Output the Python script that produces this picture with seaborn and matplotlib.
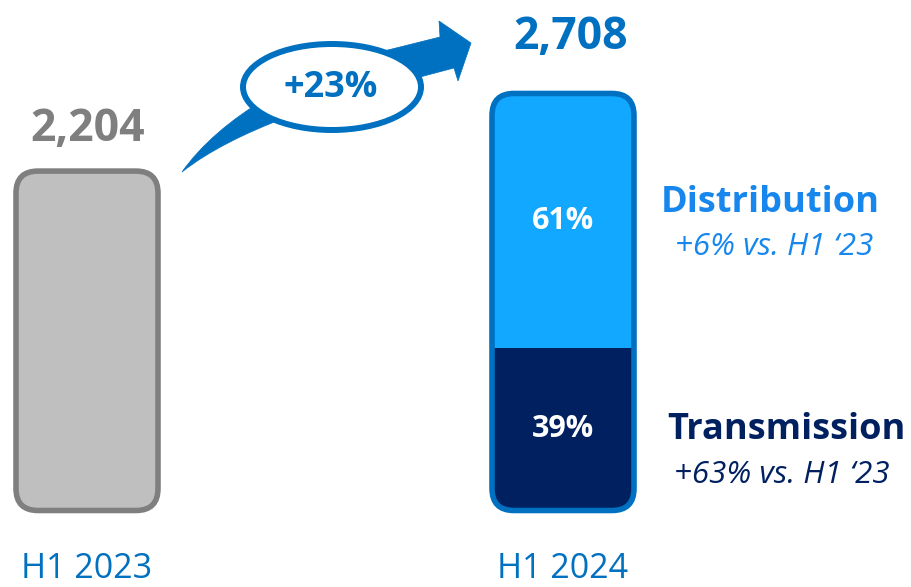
import matplotlib
matplotlib.use("Agg")
import matplotlib.pyplot as plt
import seaborn as sns
import pandas as pd
from matplotlib.patches import FancyBboxPatch, Ellipse, PathPatch
from matplotlib.path import Path

# ---------------- data ----------------
periods = ["H1 2023", "H1 2024"]
totals = [2204, 2708]
total_labels = ["2,204", "2,708"]
segments = ["Transmission", "Distribution"]
segment_share = [39, 61]          # % of H1 2024 total
segment_growth = ["+63% vs. H1 \u201823", "+6% vs. H1 \u201823"]
growth_label = "+23%"

# ---------------- style ----------------
GRAY_FILL = "#BFBFBF"
GRAY_EDGE = "#7F7F7F"
BLUE = "#0070C0"
LIGHT_BLUE = "#12A8FF"
NAVY = "#002060"
DIST_TXT = "#1787EE"

sns.set_theme(style="white")
plt.rcParams["font.family"] = ["Open Sans", "DejaVu Sans"]

W, H = 912, 587
fig = plt.figure(figsize=(W / 100, H / 100), dpi=100)
base_px = 510.5          # pixel row of the bar baseline
s = 0.154                # pixels per unit value
xpx = 476.0              # pixels per category step
x0px = 87.0              # pixel column of first category

ax = fig.add_axes([0, (H - base_px) / H, 1, base_px / H])
bw = 142 / xpx

df = pd.DataFrame({"period": periods, "total": totals})
sns.barplot(data=df, x="period", y="total", hue="period", order=periods,
            palette=[GRAY_FILL, LIGHT_BLUE], width=bw, saturation=1,
            errorbar=None, legend=False, linewidth=0, ax=ax)
trans_val = totals[1] * segment_share[0] / 100
dist_val = totals[1] * segment_share[1] / 100
sns.barplot(x=[periods[1]], y=[trans_val], order=periods, color=NAVY,
            width=bw, saturation=1, errorbar=None, linewidth=0, ax=ax)

ax.set_xlim(-x0px / xpx, (W - x0px) / xpx)
ax.set_ylim(0, base_px / s)

# rounded outlines, used as clip paths for the seaborn bars
r_px = 22
ma = xpx / s
edge_colors = [GRAY_EDGE, BLUE]
bars = [p for p in ax.patches]
rounded = []
for i, tot in enumerate(totals):
    rp = FancyBboxPatch((i - bw / 2, 0), bw, tot,
                        boxstyle=f"round,pad=0,rounding_size={r_px / xpx}",
                        mutation_aspect=ma, facecolor="none",
                        edgecolor=edge_colors[i], linewidth=4.0,
                        clip_on=False, transform=ax.transData, zorder=5)
    ax.add_patch(rp)
    rounded.append(rp)
for p in bars:
    cx = p.get_x() + p.get_width() / 2
    i = int(round(cx))
    p.set_clip_path(rounded[i])

# value labels above bars
label_colors = [GRAY_EDGE, BLUE]
label_gap = [30, 44]
label_dx = [1, 8]
for i, tot in enumerate(totals):
    ax.annotate(total_labels[i], (i, tot), xytext=(label_dx[i] * 0.72, label_gap[i] * 0.72),
                textcoords="offset points", ha="center", va="baseline",
                fontsize=32, fontweight="bold", color=label_colors[i])

# share labels inside the stacked bar
ax.text(1, trans_val / 2, f"{segment_share[0]}%", ha="center", va="center",
        fontsize=22, fontweight="bold", color="white", zorder=6)
ax.text(1, trans_val + dist_val / 2, f"{segment_share[1]}%", ha="center",
        va="center", fontsize=22, fontweight="bold", color="white", zorder=6)

ax.set_xlabel("")
ax.set_ylabel("")
ax.set_yticks([])
ax.tick_params(axis="x", length=0, pad=30, labelsize=24.5, labelcolor=BLUE)
sns.despine(ax=ax, left=True, bottom=True)
ax.patch.set_alpha(0)

# ---------------- overlay (growth arrow, legend texts) ----------------
ov = fig.add_axes([0, 0, 1, 1])
ov.set_xlim(0, W)
ov.set_ylim(H, 0)
ov.axis("off")
ov.patch.set_alpha(0)

verts = [(182, 172), (220, 118), (300, 70), (392, 49),
         (440, 37), (439, 21), (471, 43), (458, 81), (454, 68), (420, 77),
         (330, 99), (235, 130), (182, 172), (182, 172)]
codes = [Path.MOVETO, Path.CURVE4, Path.CURVE4, Path.CURVE4,
         Path.LINETO, Path.LINETO, Path.LINETO, Path.LINETO, Path.LINETO, Path.LINETO,
         Path.CURVE4, Path.CURVE4, Path.CURVE4, Path.CLOSEPOLY]
ov.add_patch(PathPatch(Path(verts, codes), facecolor=BLUE, edgecolor=BLUE, lw=0.5))
ov.add_patch(Ellipse((332, 87), 178, 86, facecolor="white", edgecolor=BLUE, lw=4.3))
ov.text(331, 88, growth_label, ha="center", va="center", fontsize=26,
        fontweight="bold", color=BLUE)

ov.text(770, 203, segments[1], ha="center", va="center", fontsize=26,
        fontweight="bold", color=DIST_TXT)
ov.text(774, 247, segment_growth[1], ha="center", va="center", fontsize=22.5,
        style="italic", color=DIST_TXT)
ov.text(786, 430, segments[0], ha="center", va="center", fontsize=26,
        fontweight="bold", color=NAVY)
ov.text(782, 475, segment_growth[0], ha="center", va="center", fontsize=22.5,
        style="italic", color=NAVY)

fig.savefig("out.png", dpi=100)
